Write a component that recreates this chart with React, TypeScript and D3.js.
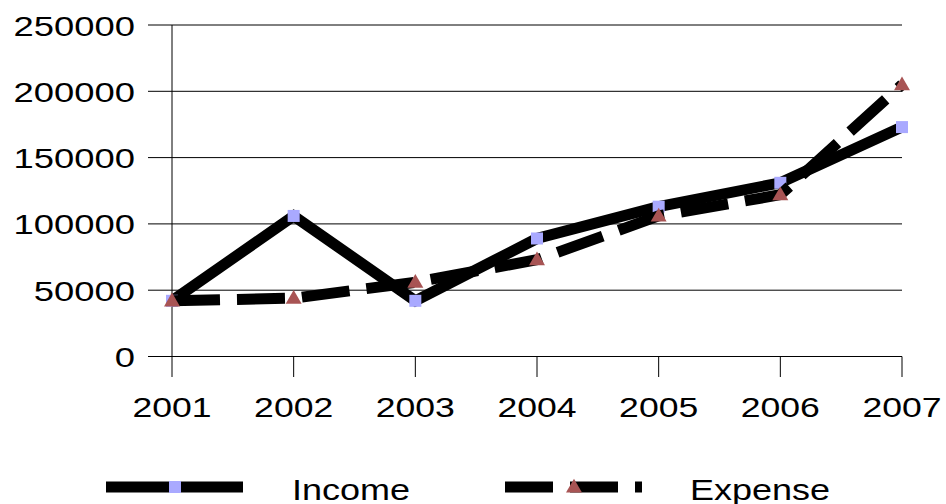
import * as d3 from 'd3';

const years = ['2001', '2002', '2003', '2004', '2005', '2006', '2007'];
const income = [42000, 106000, 42000, 89000, 113000, 131000, 173000];
const expense = [42000, 44000, 56000, 73000, 106000, 122000, 205000];
const yTicks = [0, 50000, 100000, 150000, 200000, 250000];

const W = 946;
const H = 504;
const left = 172;
const right = 902;
const top = 25;
const bottom = 356.5;

const squareColor = '#a9a9ff';
const triColor = '#a85454';

export default function App() {
  const x = d3.scalePoint<string>().domain(years).range([left, right]);
  const y = d3.scaleLinear().domain([0, 250000]).range([bottom, top]);

  const line = d3.line<number>()
    .x((_, i) => x(years[i]) as number)
    .y((d) => y(d));

  const tri = d3.symbol().type(d3.symbolTriangle).size(110)();

  const font = 'Liberation Sans, Arial, sans-serif';

  return (
    <svg width={W} height={H} style={{ position: 'absolute', left: 0, top: 0, background: '#fff' }}>
      {/* gridlines + y ticks */}
      {yTicks.map((t) => (
        <g key={t}>
          <line x1={148} x2={right} y1={y(t)} y2={y(t)} stroke="#000" strokeWidth={1} />
          <text
            transform={`translate(135, ${y(t) + 10.5}) scale(1.3, 1)`}
            textAnchor="end"
            fontFamily={font}
            fontSize={28}
            fill="#000"
          >
            {t}
          </text>
        </g>
      ))}
      {/* y axis */}
      <line x1={left} x2={left} y1={top} y2={bottom} stroke="#000" strokeWidth={1} />
      {/* x ticks */}
      {years.map((yr) => (
        <g key={yr}>
          <line x1={x(yr)} x2={x(yr)} y1={bottom} y2={377} stroke="#000" strokeWidth={1} />
          <text
            transform={`translate(${x(yr)}, 417) scale(1.27, 1)`}
            textAnchor="middle"
            fontFamily={font}
            fontSize={28}
            fill="#000"
          >
            {yr}
          </text>
        </g>
      ))}

      {/* income */}
      <path d={line(income) || ''} fill="none" stroke="#000" strokeWidth={11} strokeLinejoin="miter" />
      {income.map((v, i) => (
        <rect key={i} x={(x(years[i]) as number) - 6} y={y(v) - 6} width={12} height={12} fill={squareColor} />
      ))}

      {/* expense */}
      <path
        d={line(expense) || ''}
        fill="none"
        stroke="#000"
        strokeWidth={11}
        strokeDasharray="48 17"
        strokeLinejoin="miter"
      />
      {expense.map((v, i) => (
        <path key={i} d={tri || ''} transform={`translate(${x(years[i])}, ${y(v) + 1})`} fill={triColor} />
      ))}

      {/* legend */}
      <line x1={106} x2={243} y1={487} y2={487} stroke="#000" strokeWidth={11} />
      <rect x={169} y={481} width={12} height={12} fill={squareColor} />
      <text transform="translate(292, 500) scale(1.2, 1)" fontFamily={font} fontSize={30} fill="#000">
        Income
      </text>

      <line x1={505} x2={642} y1={487} y2={487} stroke="#000" strokeWidth={11} strokeDasharray="48 17" />
      <path d={tri || ''} transform="translate(574, 488)" fill={triColor} />
      <text transform="translate(690, 500) scale(1.2, 1)" fontFamily={font} fontSize={30} fill="#000">
        Expense
      </text>
    </svg>
  );
}
